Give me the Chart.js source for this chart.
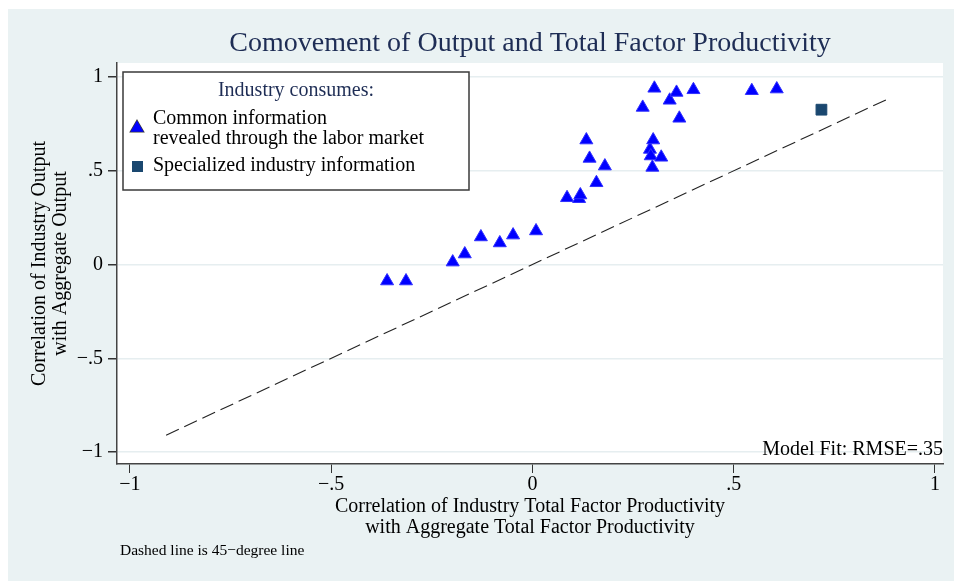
<!DOCTYPE html>
<html>
<head>
<meta charset="utf-8">
<script src="https://cdn.jsdelivr.net/npm/chart.js@4.4.0/dist/chart.umd.min.js"></script>
<style>
  html, body { margin: 0; padding: 0; background: #fff; }
</style>
</head>
<body>
<canvas id="tfpChart" width="954" height="581"></canvas>
<script>
// industries consuming common information (triangles)
const tfpCommon = [-0.361, -0.314, -0.198, -0.168, -0.128, -0.081, -0.048, 0.009,
    0.086, 0.116, 0.119, 0.134, 0.142, 0.159, 0.180,
    0.274, 0.292, 0.294, 0.298, 0.300, 0.303, 0.320, 0.341, 0.358, 0.365, 0.400,
    0.545, 0.607];
const outCommon = [-0.088, -0.088, 0.013, 0.056, 0.147, 0.115, 0.157, 0.179,
    0.356, 0.351, 0.371, 0.664, 0.566, 0.436, 0.525,
    0.838, 0.614, 0.579, 0.518, 0.664, 0.940, 0.572, 0.876, 0.918, 0.780, 0.932,
    0.927, 0.936];

// specialized industry information (square)
const tfpSpecial = [0.718];
const outSpecial = [0.826];

// 45-degree line end points
const diagX = [-0.91, 0.89];
const diagY = [-0.91, 0.89];

const tickVals = [-1, -0.5, 0, 0.5, 1];
const tickLabels = ["−1", "−.5", "0", ".5", "1"];

const serif = "'Liberation Serif', 'Times New Roman', serif";
const navy = "#1E2D55";
const marker = "#1A476F";

const toPts = (xs, ys) => xs.map((x, i) => ({ x: x, y: ys[i] }));
const fixTicks = (scale) => { scale.ticks = tickVals.map(v => ({ value: v })); };
const tickText = (v) => { const i = tickVals.indexOf(v); return i < 0 ? "" : tickLabels[i]; };

const decor = {
    id: "decor",
    beforeDraw(chart) {
        const { ctx, chartArea: a } = chart;
        ctx.save();
        ctx.fillStyle = "#fff";
        ctx.fillRect(0, 0, chart.width, chart.height);
        ctx.fillStyle = "#EAF2F3";
        ctx.fillRect(8, 9, chart.width - 8, chart.height - 9);
        ctx.fillStyle = "#fff";
        ctx.fillRect(a.left, a.top, a.right - a.left, a.bottom - a.top);
        ctx.restore();
    },
    afterDraw(chart) {
        const { ctx, chartArea: a } = chart;
        ctx.save();
        // title
        ctx.fillStyle = navy;
        ctx.font = "28px " + serif;
        ctx.textAlign = "center";
        ctx.textBaseline = "middle";
        ctx.fillText("Comovement of Output and Total Factor Productivity", (a.left + a.right) / 2, 44);

        // legend box
        ctx.fillStyle = "#fff";
        ctx.fillRect(123, 72, 346, 118);
        ctx.strokeStyle = "#3a3a3a";
        ctx.lineWidth = 1.5;
        ctx.strokeRect(123, 72, 346, 118);
        ctx.fillStyle = navy;
        ctx.font = "20px " + serif;
        ctx.fillText("Industry consumes:", 296, 91);
        Chart.helpers.drawPoint(ctx, { pointStyle: "triangle", radius: 7.5, borderWidth: 1 }, 137, 128);
        ctx.fillStyle = "#0000FF";
        ctx.fill();
        ctx.fillStyle = marker;
        ctx.fillRect(132, 161, 11, 11);
        ctx.fillStyle = "#000";
        ctx.textAlign = "left";
        ctx.fillText("Common information", 153, 119);
        ctx.fillText("revealed through the labor market", 153, 139);
        ctx.fillText("Specialized industry information", 153, 166);

        // fit note
        ctx.textAlign = "right";
        ctx.fillText("Model Fit: RMSE=.35", a.right, 450);

        // footnote
        ctx.font = "15.5px " + serif;
        ctx.textAlign = "left";
        ctx.fillText("Dashed line is 45−degree line", 120, 551);
        ctx.restore();
    }
};

new Chart(document.getElementById("tfpChart"), {
    type: "scatter",
    data: {
        datasets: [
            {
                label: "Common information revealed through the labor market",
                data: toPts(tfpCommon, outCommon),
                pointStyle: "triangle",
                pointRadius: 7.5,
                backgroundColor: "#0000FF",
                borderColor: "#3030FF",
                borderWidth: 1,
            },
            {
                label: "Specialized industry information",
                data: toPts(tfpSpecial, outSpecial),
                pointStyle: "rect",
                pointRadius: 7.6,
                backgroundColor: marker,
                borderColor: marker,
                borderWidth: 1,
            },
            {
                type: "line",
                label: "45-degree line",
                data: toPts(diagX, diagY),
                borderColor: "#222",
                borderWidth: 1.1,
                borderDash: [14, 6],
                pointRadius: 0,
                fill: false,
            }
        ]
    },
    options: {
        responsive: false,
        animation: false,
        layout: { padding: { left: 0, right: 11, top: 63, bottom: 40 } },
        plugins: {
            legend: { display: false },
            tooltip: { enabled: false }
        },
        scales: {
            x: {
                type: "linear",
                min: -1.032,
                max: 1.02,
                afterBuildTicks: fixTicks,
                afterFit: (s) => { s.height = 77; },
                border: { display: true, color: "#444", width: 1.5 },
                grid: { drawOnChartArea: false, tickLength: 9, tickColor: "#333" },
                ticks: {
                    autoSkip: false, maxRotation: 0, padding: 0,
                    color: "#000", font: { family: serif, size: 20 },
                    callback: tickText
                },
                title: {
                    display: true,
                    text: ["Correlation of Industry Total Factor Productivity", "with Aggregate Total Factor Productivity"],
                    color: "#000",
                    font: { family: serif, size: 20, lineHeight: 1.05 },
                    padding: { top: 0, bottom: 2.5 }
                }
            },
            y: {
                type: "linear",
                min: -1.064,
                max: 1.075,
                afterBuildTicks: fixTicks,
                afterFit: (s) => { s.width = 117; },
                border: { display: true, color: "#444", width: 1.5 },
                grid: { color: "#E6EEF0", lineWidth: 1.5, tickLength: 9, tickColor: "#333" },
                ticks: {
                    autoSkip: false, padding: 5,
                    color: "#000", font: { family: serif, size: 20 },
                    callback: tickText
                },
                title: {
                    display: true,
                    text: ["Correlation of Industry Output", "with Aggregate Output"],
                    color: "#000",
                    font: { family: serif, size: 20, lineHeight: 1.05 },
                    padding: { top: 29, bottom: 0 }
                }
            }
        }
    },
    plugins: [decor]
});
</script>
</body>
</html>
